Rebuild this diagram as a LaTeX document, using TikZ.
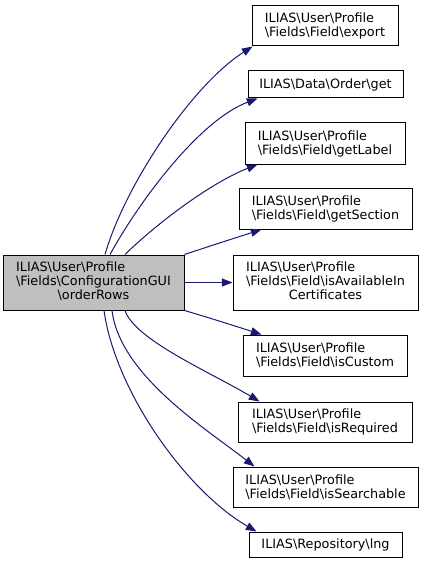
\documentclass[tikz,border=0pt]{standalone}
\usepackage{fontspec}
\setmainfont{DejaVu Sans}
\usetikzlibrary{arrows.meta,calc}
\definecolor{edgeblue}{RGB}{25,25,112}
\definecolor{mainfill}{RGB}{191,191,191}
\newcommand{\bsl}{\textbackslash}
\begin{document}
\begin{tikzpicture}[x=0.75pt,y=-0.75pt,
  box/.style={draw=black, line width=0.75pt, fill=white, inner sep=0pt, align=left,
    font=\fontsize{9.6}{10.5}\selectfont},
  mainbox/.style={box, fill=mainfill},
  sz/.style 2 args={minimum width=#1*0.75pt, minimum height=#2*0.75pt},
  edge/.style={draw=edgeblue, line width=0.75pt, -{Triangle[length=8pt,width=6pt]}}]
\useasboundingbox (0,0) rectangle (424,563);

\node[mainbox, sz={181}{55}] (m) at (93.5,282.5)
  {\begin{tabular}{@{}l@{}}ILIAS\bsl User\bsl Profile\\\bsl Fields\bsl ConfigurationGUI\\\multicolumn{1}{@{}c@{}}{\bsl orderRows}\end{tabular}};

\node[box, sz={146}{40}] (e1) at (325,26) {ILIAS\bsl User\bsl Profile\\\bsl Fields\bsl Field\bsl export};
\node[box, sz={155}{27}] (e2) at (325.5,84.5) {ILIAS\bsl Data\bsl Order\bsl get};
\node[box, sz={160}{41}] (e3) at (325,143.5) {ILIAS\bsl User\bsl Profile\\\bsl Fields\bsl Field\bsl getLabel};
\node[box, sz={173}{41}] (e4) at (325.5,208.5) {ILIAS\bsl User\bsl Profile\\\bsl Fields\bsl Field\bsl getSection};
\node[box, sz={185}{55}] (e5) at (325.5,282.5)
  {\begin{tabular}{@{}l@{}}ILIAS\bsl User\bsl Profile\\\bsl Fields\bsl Field\bsl isAvailableIn\\\multicolumn{1}{@{}c@{}}{Certificates}\end{tabular}};
\node[box, sz={164}{41}] (e6) at (325,355.5) {ILIAS\bsl User\bsl Profile\\\bsl Fields\bsl Field\bsl isCustom};
\node[box, sz={174}{40}] (e7) at (325,422) {ILIAS\bsl User\bsl Profile\\\bsl Fields\bsl Field\bsl isRequired};
\node[box, sz={185}{40}] (e8) at (325.5,487) {ILIAS\bsl User\bsl Profile\\\bsl Fields\bsl Field\bsl isSearchable};
\node[box, sz={153}{25}] (e9) at (325.5,544.5) {ILIAS\bsl Repository\bsl lng};

\draw[edge] ($(m.north)+(11.5,0)$) .. controls (125,185) and (192,85) .. ($(e1.south west)+(1,0)$);
\draw[edge] ($(m.north)+(16.5,0)$) .. controls (140,200) and (200,120) .. ($(e2.south west)+(10,0)$);
\draw[edge] ($(m.north)+(31.5,0)$) .. controls (155,225) and (210,183) .. ($(e3.south west)+(13,0)$);
\draw[edge] (m.north east) .. controls (210,246) and (235,238) .. ($(e4.south west)+(23,0)$);
\draw[edge] (m.east) -- (e5.west);
\draw[edge] (m.south east) .. controls (210,318) and (235,326) .. ($(e6.north west)+(19,0)$);
\draw[edge] ($(m.south)+(31.5,0)$) .. controls (135,340) and (210,372) .. ($(e7.north west)+(22,0)$);
\draw[edge] ($(m.south)+(18.5,0)$) .. controls (120,375) and (205,428) .. ($(e8.north west)+(22,0)$);
\draw[edge] ($(m.south)+(10.5,0)$) .. controls (115,390) and (185,490) .. ($(e9.north west)+(8,0)$);
\end{tikzpicture}
\end{document}
